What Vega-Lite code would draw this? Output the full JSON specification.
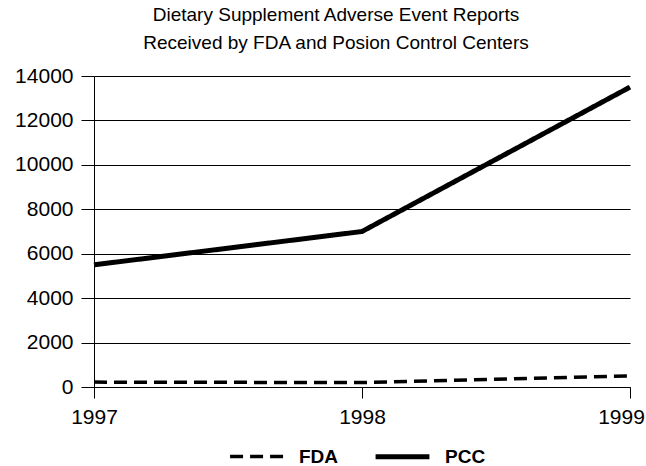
{
  "$schema": "https://vega.github.io/schema/vega-lite/v6.json",
  "width": 536,
  "height": 311,
  "autosize": {"type": "none"},
  "padding": {"left": 94, "top": 76, "right": 16, "bottom": 79},
  "background": "white",
  "title": {
    "text": ["Dietary Supplement Adverse Event Reports", "Received by FDA and Posion Control Centers"],
    "font": "Liberation Sans",
    "fontSize": 19,
    "fontWeight": "normal",
    "color": "black",
    "lineHeight": 28,
    "anchor": "middle",
    "dx": -26,
    "offset": 12
  },
  "data": {
    "values": [
      {"year": 1997, "series": "FDA", "value": 220},
      {"year": 1998, "series": "FDA", "value": 200},
      {"year": 1999, "series": "FDA", "value": 500},
      {"year": 1997, "series": "PCC", "value": 5500},
      {"year": 1998, "series": "PCC", "value": 7000},
      {"year": 1999, "series": "PCC", "value": 13500}
    ]
  },
  "mark": {"type": "line", "color": "black", "strokeCap": "butt", "strokeJoin": "miter"},
  "encoding": {
    "x": {
      "field": "year",
      "type": "ordinal",
      "scale": {"type": "point", "padding": 0},
      "axis": {
        "title": null,
        "labelAngle": 0,
        "grid": false,
        "domainColor": "black",
        "tickColor": "black",
        "tickSize": 11,
        "labelFont": "Liberation Sans",
        "labelFontSize": 21,
        "labelColor": "black",
        "labelPadding": 8,
        "labelOverlap": false,
        "labelBound": false,
        "labelOffset": {"condition": {"test": "datum.value == 1999", "value": -9}, "value": 0}
      }
    },
    "y": {
      "field": "value",
      "type": "quantitative",
      "scale": {"domain": [0, 14000], "nice": false},
      "axis": {
        "title": null,
        "values": [0, 2000, 4000, 6000, 8000, 10000, 12000, 14000],
        "format": "d",
        "grid": true,
        "gridColor": "black",
        "gridOpacity": 1,
        "gridWidth": 1,
        "domainColor": "black",
        "tickColor": "black",
        "tickSize": 13,
        "labelFont": "Liberation Sans",
        "labelFontSize": 21,
        "labelColor": "black",
        "labelPadding": 8
      }
    },
    "strokeDash": {
      "field": "series",
      "type": "nominal",
      "scale": {"domain": ["FDA", "PCC"], "range": [[13, 7], [1, 0]]},
      "legend": {
        "title": null,
        "orient": "none",
        "legendX": 134,
        "legendY": 351,
        "direction": "horizontal",
        "symbolType": "stroke",
        "symbolSize": 2900,
        "symbolStrokeWidth": 3,
        "symbolStrokeColor": "black",
        "labelFont": "Liberation Sans",
        "labelFontSize": 19,
        "labelFontWeight": "bold",
        "labelColor": "black",
        "labelOffset": 13,
        "columnPadding": 26,
        "encode": {
          "symbols": {
            "update": {
              "strokeWidth": {"signal": "datum.value === 'PCC' ? 1 : 4"},
              "strokeDash": {"signal": "datum.value === 'PCC' ? [1, 0] : [8, 3]"}
            }
          }
        }
      }
    },
    "strokeWidth": {
      "field": "series",
      "type": "nominal",
      "scale": {"domain": ["FDA", "PCC"], "range": [3.5, 5]},
      "legend": null
    }
  },
  "config": {"view": {"stroke": null}}
}
